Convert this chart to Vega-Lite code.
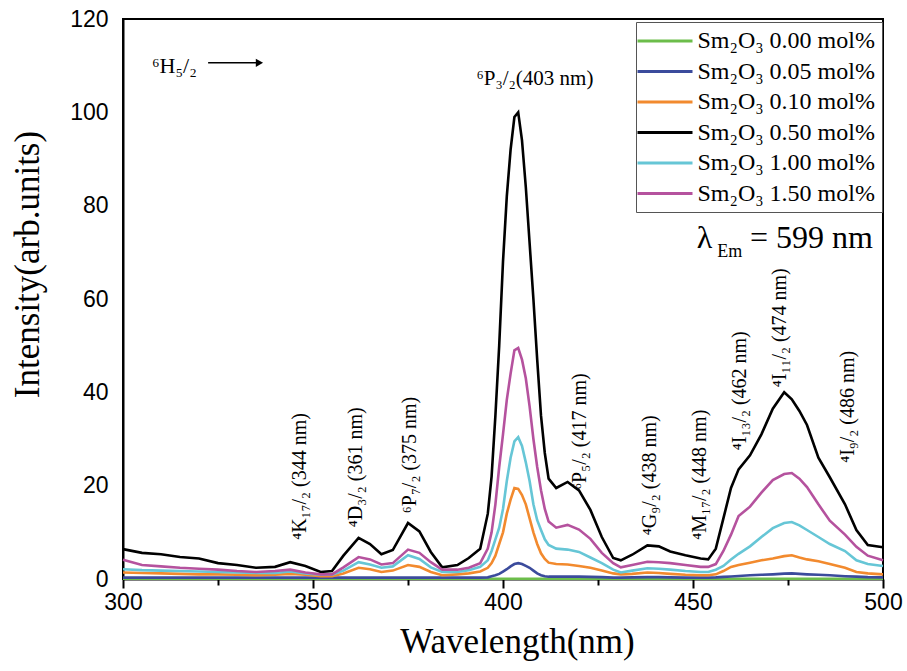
{
  "$schema": "https://vega.github.io/schema/vega-lite/v6.json",
  "width": 760,
  "height": 560,
  "autosize": "none",
  "padding": {"left": 123, "top": 19, "right": 24, "bottom": 92},
  "background": "white",
  "config": {
    "view": {"stroke": "black", "strokeWidth": 2},
    "axis": {
      "labelFont": "Liberation Sans", "labelFontSize": 23, "labelColor": "black",
      "domainColor": "black", "domainWidth": 2, "tickColor": "black", "tickWidth": 2,
      "grid": false, "titleFont": "Liberation Serif", "titleFontWeight": "normal", "titleColor": "black"
    }
  },
  "datasets": {
    "spec": [
      {"wl":300,"g":0.05,"b":0.3,"o":1.4,"k":6.4,"c":2.1,"m":4.1},
      {"wl":305,"g":0.05,"b":0.3,"o":1.3,"k":5.6,"c":1.9,"m":3.0},
      {"wl":310,"g":0.05,"b":0.3,"o":1.2,"k":5.3,"c":1.8,"m":2.7},
      {"wl":315,"g":0.05,"b":0.3,"o":1.1,"k":4.7,"c":1.7,"m":2.4},
      {"wl":320,"g":0.05,"b":0.3,"o":1.0,"k":4.4,"c":1.6,"m":2.2},
      {"wl":325,"g":0.05,"b":0.3,"o":1.0,"k":3.4,"c":1.5,"m":2.0},
      {"wl":330,"g":0.05,"b":0.3,"o":0.9,"k":3.0,"c":1.4,"m":1.7},
      {"wl":335,"g":0.05,"b":0.3,"o":0.8,"k":2.4,"c":1.3,"m":1.5},
      {"wl":340,"g":0.05,"b":0.3,"o":0.9,"k":2.6,"c":1.3,"m":1.7},
      {"wl":344,"g":0.05,"b":0.3,"o":1.1,"k":3.6,"c":1.6,"m":2.0},
      {"wl":348,"g":0.05,"b":0.3,"o":0.9,"k":2.8,"c":1.2,"m":1.4},
      {"wl":352,"g":0.05,"b":0.3,"o":0.6,"k":1.5,"c":0.9,"m":1.0},
      {"wl":355,"g":0.05,"b":0.3,"o":0.6,"k":1.7,"c":0.9,"m":1.0},
      {"wl":358,"g":0.05,"b":0.3,"o":1.2,"k":5.0,"c":1.8,"m":2.5},
      {"wl":362,"g":0.05,"b":0.3,"o":2.4,"k":8.8,"c":3.6,"m":4.7},
      {"wl":365,"g":0.05,"b":0.3,"o":2.1,"k":7.5,"c":3.1,"m":4.2},
      {"wl":368,"g":0.05,"b":0.3,"o":1.5,"k":5.3,"c":2.4,"m":3.1},
      {"wl":371,"g":0.05,"b":0.3,"o":1.8,"k":6.2,"c":2.7,"m":3.4},
      {"wl":375,"g":0.05,"b":0.3,"o":3.0,"k":12.0,"c":5.1,"m":6.3},
      {"wl":378,"g":0.05,"b":0.3,"o":2.6,"k":10.2,"c":4.3,"m":5.6},
      {"wl":381,"g":0.05,"b":0.3,"o":1.5,"k":5.8,"c":2.5,"m":3.6},
      {"wl":384,"g":0.05,"b":0.3,"o":0.8,"k":2.5,"c":1.5,"m":2.0},
      {"wl":388,"g":0.05,"b":0.3,"o":1.0,"k":3.0,"c":1.5,"m":2.0},
      {"wl":391,"g":0.05,"b":0.3,"o":1.2,"k":4.5,"c":1.9,"m":2.4},
      {"wl":394,"g":0.05,"b":0.3,"o":1.6,"k":6.5,"c":2.6,"m":3.4},
      {"wl":396,"g":0.05,"b":0.35,"o":2.4,"k":14,"c":4.0,"m":6.5},
      {"wl":397,"g":0.05,"b":0.6,"o":3.4,"k":22,"c":6.0,"m":10},
      {"wl":398,"g":0.05,"b":0.8,"o":5.0,"k":35,"c":8.5,"m":16},
      {"wl":399,"g":0.05,"b":1.1,"o":7.5,"k":50,"c":11,"m":24},
      {"wl":400,"g":0.05,"b":1.6,"o":10,"k":68,"c":15,"m":31},
      {"wl":401,"g":0.05,"b":2.1,"o":14,"k":82,"c":21,"m":38.4},
      {"wl":402,"g":0.05,"b":2.7,"o":17,"k":92,"c":26,"m":44},
      {"wl":403,"g":0.05,"b":3.2,"o":19.5,"k":99,"c":29.5,"m":49},
      {"wl":404,"g":0.05,"b":3.4,"o":19.3,"k":100,"c":30.4,"m":49.5},
      {"wl":405,"g":0.05,"b":3.2,"o":18,"k":94,"c":28.5,"m":47},
      {"wl":406,"g":0.05,"b":2.8,"o":16,"k":84,"c":25,"m":43},
      {"wl":407,"g":0.05,"b":2.4,"o":13,"k":72,"c":21,"m":37},
      {"wl":408,"g":0.05,"b":1.8,"o":10,"k":60,"c":16,"m":30},
      {"wl":409,"g":0.05,"b":1.2,"o":7.5,"k":47,"c":12.6,"m":24},
      {"wl":410,"g":0.05,"b":0.8,"o":5.5,"k":35,"c":10.5,"m":19},
      {"wl":411,"g":0.05,"b":0.6,"o":4.3,"k":27,"c":8.5,"m":15},
      {"wl":412,"g":0.05,"b":0.5,"o":3.5,"k":21.5,"c":7.3,"m":12.3},
      {"wl":414,"g":0.05,"b":0.5,"o":3.2,"k":19.5,"c":6.5,"m":11},
      {"wl":417,"g":0.05,"b":0.5,"o":3.1,"k":20.8,"c":6.3,"m":11.6},
      {"wl":420,"g":0.05,"b":0.5,"o":2.8,"k":19,"c":5.8,"m":10.6},
      {"wl":423,"g":0.05,"b":0.45,"o":2.4,"k":14.8,"c":4.6,"m":8.6},
      {"wl":426,"g":0.05,"b":0.4,"o":1.8,"k":9.0,"c":3.4,"m":5.6},
      {"wl":429,"g":0.05,"b":0.3,"o":1.2,"k":4.5,"c":2.0,"m":3.4},
      {"wl":431,"g":0.05,"b":0.3,"o":1.0,"k":4.0,"c":1.4,"m":2.5},
      {"wl":434,"g":0.05,"b":0.35,"o":1.1,"k":5.2,"c":1.8,"m":3.0},
      {"wl":438,"g":0.05,"b":0.4,"o":1.4,"k":7.2,"c":2.3,"m":3.7},
      {"wl":441,"g":0.05,"b":0.4,"o":1.3,"k":7.0,"c":2.2,"m":3.6},
      {"wl":444,"g":0.05,"b":0.35,"o":1.1,"k":5.9,"c":2.0,"m":3.4},
      {"wl":448,"g":0.05,"b":0.3,"o":0.9,"k":5.1,"c":1.7,"m":3.0},
      {"wl":452,"g":0.05,"b":0.3,"o":0.8,"k":4.4,"c":1.5,"m":2.6},
      {"wl":454,"g":0.05,"b":0.3,"o":0.8,"k":4.2,"c":1.5,"m":2.6},
      {"wl":456,"g":0.05,"b":0.35,"o":1.0,"k":6.5,"c":2.0,"m":3.2},
      {"wl":458,"g":0.05,"b":0.45,"o":1.7,"k":13,"c":2.8,"m":6.0},
      {"wl":460,"g":0.05,"b":0.55,"o":2.6,"k":19.5,"c":4.2,"m":9.5},
      {"wl":462,"g":0.05,"b":0.65,"o":3.0,"k":23.5,"c":5.4,"m":13.5},
      {"wl":465,"g":0.05,"b":0.8,"o":3.5,"k":26.5,"c":7.0,"m":15.5},
      {"wl":468,"g":0.05,"b":0.9,"o":4.0,"k":31,"c":9.0,"m":18.5},
      {"wl":471,"g":0.05,"b":1.0,"o":4.4,"k":36.5,"c":10.9,"m":21.2},
      {"wl":474,"g":0.05,"b":1.15,"o":4.9,"k":40,"c":12,"m":22.5},
      {"wl":476,"g":0.05,"b":1.2,"o":5.1,"k":38.5,"c":12.2,"m":22.7},
      {"wl":478,"g":0.05,"b":1.1,"o":4.6,"k":36,"c":11.5,"m":21.5},
      {"wl":480,"g":0.05,"b":1.0,"o":4.2,"k":33,"c":10.5,"m":19.7},
      {"wl":483,"g":0.05,"b":0.9,"o":3.8,"k":26,"c":9.0,"m":16},
      {"wl":486,"g":0.05,"b":0.8,"o":3.2,"k":21.8,"c":7.5,"m":12.5},
      {"wl":490,"g":0.05,"b":0.6,"o":2.4,"k":16,"c":6.0,"m":9.5},
      {"wl":493,"g":0.05,"b":0.5,"o":1.5,"k":10.5,"c":4.0,"m":6.9},
      {"wl":496,"g":0.05,"b":0.4,"o":1.2,"k":7.3,"c":3.2,"m":5.0},
      {"wl":500,"g":0.05,"b":0.35,"o":1.0,"k":6.8,"c":2.8,"m":4.0}
    ],
    "rot": [
      {"x":346.6,"y":8.4,"t":"⁴K₁₇/₂ (344 nm)"},
      {"x":361.3,"y":11.1,"t":"⁴D₃/₂ (361 nm)"},
      {"x":375.5,"y":14.1,"t":"⁶P₇/₂ (375 nm)"},
      {"x":420.3,"y":19.1,"t":"⁶P₅/₂ (417 nm)"},
      {"x":438.7,"y":9.4,"t":"⁴G₉/₂ (438 nm)"},
      {"x":451.8,"y":8.4,"t":"⁴M₁₇/₂ (448 nm)"},
      {"x":462.4,"y":27.6,"t":"⁴I₁₃/₂ (462 nm)"},
      {"x":472.9,"y":41.1,"t":"⁴I₁₁/₂ (474 nm)"},
      {"x":490.8,"y":24.9,"t":"⁴I₉/₂ (486 nm)"}
    ]
  },
  "layer": [
    {
      "data": {"name": "spec"},
      "transform": [{"fold": ["g","b","o","k","c","m"], "as": ["s","v"]}],
      "mark": {"type": "line", "strokeWidth": 2.6},
      "encoding": {
        "x": {"field": "wl", "type": "quantitative", "scale": {"domain": [300,500], "nice": false},
              "axis": {"orient": "bottom", "values": [300,350,400,450,500], "tickSize": 9, "labelPadding": 3, "title": "Wavelength(nm)", "titleFontSize": 35, "titlePadding": 10, "titleX": 394, "labelFlush": false}},
        "y": {"field": "v", "type": "quantitative", "scale": {"domain": [0,120], "nice": false},
              "axis": {"orient": "left", "values": [0,20,40,60,80,100,120], "ticks": false, "labelPadding": 15, "title": "Intensity(arb.units)", "titleFontSize": 35, "titleX": -96, "titleY": 245, "titleAngle": 270, "titleBaseline": "middle", "titleAlign": "center"}},
        "color": {"field": "s", "type": "nominal",
          "scale": {"domain": ["g","b","o","k","c","m"], "range": ["#6cbd4a","#3b4b9c","#f28a2e","#000000","#66c6d6","#b5529e"]},
          "legend": {"orient": "none", "legendX": 513, "legendY": 3, "title": null,
            "labelExpr": "{'g':'Sm₂O₃ 0.00 mol%','b':'Sm₂O₃ 0.05 mol%','o':'Sm₂O₃ 0.10 mol%','k':'Sm₂O₃ 0.50 mol%','c':'Sm₂O₃ 1.00 mol%','m':'Sm₂O₃ 1.50 mol%'}[datum.label]",
            "labelFont": "Liberation Serif", "labelFontSize": 24, "labelColor": "black", "labelLimit": 400,
            "symbolType": "M-2.5,0H2.5", "symbolSize": 484, "symbolStrokeWidth": 3, "symbolOffset": 10,
            "strokeColor": "#555555", "fillColor": "white", "padding": 6.5, "rowPadding": 5.5, "labelOffset": 20}}
      }
    },
    {
      "data": {"name": "rot"},
      "mark": {"type": "text", "angle": 270, "align": "left", "baseline": "middle", "font": "Liberation Serif", "fontSize": 20, "color": "black"},
      "encoding": {
        "x": {"field": "x", "type": "quantitative", "scale": {"domain": [300,500], "nice": false},
              "axis": {"orient": "bottom", "values": [325,375,425,475], "tickSize": 6, "labels": false, "domain": false, "title": null}},
        "y": {"field": "y", "type": "quantitative"},
        "text": {"field": "t"}
      }
    },
    {
      "data": {"values": [{"x":408.4,"y":105.8,"t":"⁶P₃/₂(403 nm)"}]},
      "mark": {"type": "text", "align": "center", "baseline": "alphabetic", "font": "Liberation Serif", "fontSize": 21, "color": "black"},
      "encoding": {"x": {"field": "x", "type": "quantitative", "axis": null}, "y": {"field": "y", "type": "quantitative"}, "text": {"field": "t"}}
    },
    {
      "data": {"values": [{"x":307.6,"y":108.4,"t":"⁶H₅/₂"}]},
      "mark": {"type": "text", "align": "left", "baseline": "alphabetic", "font": "Liberation Serif", "fontSize": 22, "color": "black"},
      "encoding": {"x": {"field": "x", "type": "quantitative", "axis": null}, "y": {"field": "y", "type": "quantitative"}, "text": {"field": "t"}}
    },
    {
      "data": {"values": [{"x":322.4,"x2":335.5,"y":110.6}]},
      "mark": {"type": "rule", "color": "black", "strokeWidth": 1.5},
      "encoding": {"x": {"field": "x", "type": "quantitative", "axis": null}, "x2": {"field": "x2"}, "y": {"field": "y", "type": "quantitative"}}
    },
    {
      "data": {"values": [{"x":335.9,"y":110.6}]},
      "mark": {"type": "point", "shape": "triangle-right", "filled": true, "color": "black", "size": 70, "opacity": 1},
      "encoding": {"x": {"field": "x", "type": "quantitative", "axis": null}, "y": {"field": "y", "type": "quantitative"}}
    },
    {
      "data": {"values": [{"x":451.0,"y":70.9,"t":"λ"}]},
      "mark": {"type": "text", "align": "left", "baseline": "alphabetic", "font": "Liberation Serif", "fontSize": 32, "color": "black"},
      "encoding": {"x": {"field": "x", "type": "quantitative", "axis": null}, "y": {"field": "y", "type": "quantitative"}, "text": {"field": "t"}}
    },
    {
      "data": {"values": [{"x":456.4,"y":69.0,"t":"Em"}]},
      "mark": {"type": "text", "align": "left", "baseline": "alphabetic", "font": "Liberation Serif", "fontSize": 18, "color": "black"},
      "encoding": {"x": {"field": "x", "type": "quantitative", "axis": null}, "y": {"field": "y", "type": "quantitative"}, "text": {"field": "t"}}
    },
    {
      "data": {"values": [{"x":465.0,"y":70.9,"t":"= 599 nm"}]},
      "mark": {"type": "text", "align": "left", "baseline": "alphabetic", "font": "Liberation Serif", "fontSize": 32, "color": "black"},
      "encoding": {"x": {"field": "x", "type": "quantitative", "axis": null}, "y": {"field": "y", "type": "quantitative"}, "text": {"field": "t"}}
    }
  ],
  "resolve": {"axis": {"x": "independent"}}
}
